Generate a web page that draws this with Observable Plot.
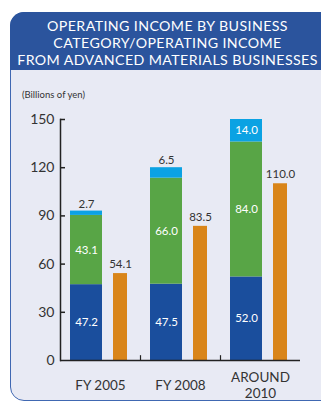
<!DOCTYPE html>
<html><head><meta charset="utf-8">
<script src="https://cdn.jsdelivr.net/npm/d3@7"></script>
<script src="https://cdn.jsdelivr.net/npm/@observablehq/plot@0.6"></script>
<style>
html,body{margin:0;padding:0;background:#fff;overflow:hidden;}
#wrap{position:relative;width:321px;height:403px;overflow:hidden;font-family:Lato,"Open Sans",sans-serif;}
#panel{position:absolute;left:10px;top:12px;width:330px;height:389px;background:#e8eaf4;border:1.5px solid #4068b2;border-radius:14px;box-sizing:border-box;}
#head{position:absolute;left:10px;top:12px;width:330px;height:58px;background:#2b549d;border-radius:14px 14px 0 0;}
#title{position:absolute;left:10px;top:17px;width:315px;text-align:center;color:#fff;font-size:14.2px;line-height:17px;letter-spacing:0.4px;white-space:nowrap;}
#unit{position:absolute;left:22px;top:89px;font-size:9.5px;color:#333;}
#chart{position:absolute;left:0;top:0;}
</style></head>
<body>
<div id="wrap">
  <div id="panel"></div>
  <div id="head"></div>
  <div id="title">OPERATING INCOME BY BUSINESS<br>CATEGORY/OPERATING INCOME<br>FROM ADVANCED MATERIALS BUSINESSES</div>
  <div id="unit">(Billions of yen)</div>
  <div id="chart"></div>
</div>
<script>
const categories = ["FY 2005", "FY 2008", "AROUND\n2010"];
const seriesNames = ["Base", "Middle", "Top"];
const baseValues = [47.2, 47.5, 52.0];
const middleValues = [43.1, 66.0, 84.0];
const topValues = [2.7, 6.5, 14.0];
const advancedValues = [54.1, 83.5, 110.0];
const yTicks = [0, 30, 60, 90, 120, 150];

const seriesArrays = [baseValues, middleValues, topValues];
const stacked = seriesNames.flatMap((s, j) => categories.map((c, i) => ({cat: c, series: s, value: seriesArrays[j][i]})));
const totals = categories.map((c, i) => ({cat: c, total: baseValues[i] + middleValues[i] + topValues[i], top: topValues[i]}));
const advanced = categories.map((c, i) => ({cat: c, value: advancedValues[i]}));

const ink = "#222";
const font = "Lato, 'Open Sans', sans-serif";

const chart = Plot.plot({
  width: 321, height: 403,
  marginTop: 119, marginBottom: 43, marginLeft: 60, marginRight: 21,
  style: {background: "transparent", fontFamily: font},
  x: {domain: categories, padding: 0, axis: null},
  y: {domain: [0, 150]},
  color: {domain: seriesNames, range: ["#1a4e9d", "#58a546", "#0ba2e3"]},
  marks: [
    Plot.barY(stacked, Plot.stackY({x: "cat", y: "value", fill: "series", insetLeft: 10, insetRight: 38})),
    Plot.barY(advanced, {x: "cat", y: "value", fill: "#d98519", insetLeft: 53, insetRight: 13}),
    Plot.text(stacked, Plot.stackY({x: "cat", y: "value", text: d => d.value >= 10 ? d.value.toFixed(1) : "", fill: "white", dx: -14, fontSize: 11.5})),
    Plot.text(totals, {x: "cat", y: "total", text: d => d.top < 10 ? d.top.toFixed(1) : "", fill: "#333", dx: -14, dy: -7, fontSize: 11.5}),
    Plot.text(advanced, {x: "cat", y: "value", text: d => d.value.toFixed(1), fill: "#333", dx: 20, dy: -9, fontSize: 11.5}),
    Plot.ruleY([0], {stroke: ink, strokeWidth: 1.5}),
    Plot.frame({anchor: "left", stroke: ink, strokeWidth: 1.5}),
    Plot.ruleY(yTicks.slice(1), {stroke: ink, strokeWidth: 1.5, insetRight: 235}),
    Plot.ruleX(categories.slice(1), {x: d => d, y1: 0, y2: 3, dx: -40, stroke: ink, strokeWidth: 1.2}),
    Plot.axisY(yTicks, {tickSize: 0, tickPadding: 6, fontSize: 14, fill: "#333", label: null}),
    Plot.text(categories, {x: d => d, frameAnchor: "bottom", dy: 24, lineAnchor: "middle", fontSize: 13.5, fill: "#333", lineHeight: 1.2})
  ]
});
document.getElementById("chart").appendChild(chart);
</script>
</body></html>
